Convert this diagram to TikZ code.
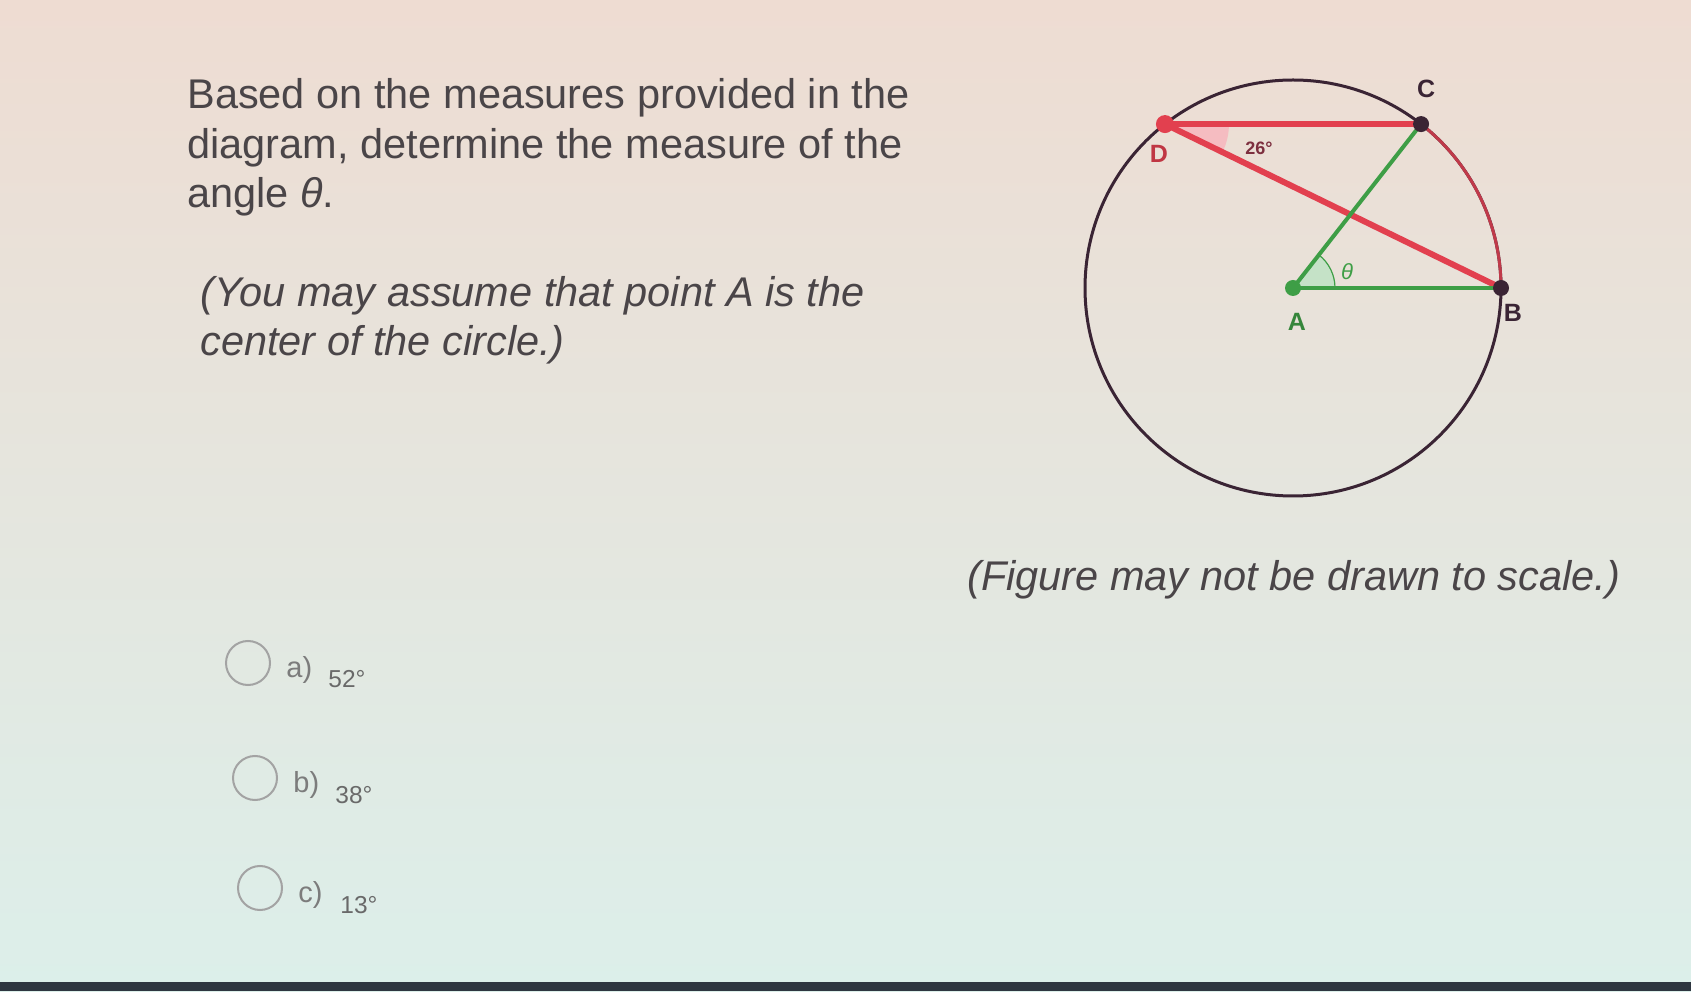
\documentclass[tikz,border=0pt]{standalone}
\usepackage{fontspec}
\setmainfont{Liberation Sans}
\usepackage{tikz}
\usetikzlibrary{positioning}

\definecolor{qtext}{HTML}{4A4548}
\definecolor{chordred}{HTML}{E2404F}
\definecolor{radgreen}{HTML}{3E9E46}
\definecolor{rimdark}{HTML}{3A2434}
\definecolor{optgray}{HTML}{7C7C7C}
\definecolor{bgtop}{HTML}{EEDCD2}
\definecolor{bgbottom}{HTML}{DCEFEA}
\definecolor{bardark}{HTML}{2E3640}

\newcommand{\qfont}{\fontsize{20.75}{24.75}\selectfont}
\newcommand{\circrad}{208}

\tikzset{question/.style={anchor=base west,inner sep=0,text=qtext,align=left,font=\qfont},
    aside/.style={question,font=\qfont\itshape},
    rim/.style={draw=rimdark,line width=1.5pt},
    chord/.style={draw=chordred,line width=3pt,line cap=round},
    spoke/.style={draw=radgreen,line width=2pt,line cap=round},
    ptdot/.style={circle,inner sep=0,minimum size=8pt},
    ptlabel/.style={inner sep=0,font=\bfseries\fontsize{12.5}{14}\selectfont},
    radio/.style={draw=optgray!70,circle,line width=1pt,minimum size=22pt,inner sep=0},
    optletter/.style={anchor=base west,inner sep=0,text=optgray,font=\fontsize{14.5}{16}\selectfont},
    optvalue/.style={anchor=base west,inner sep=0,text=optgray!85!black,font=\fontsize{12.25}{14}\selectfont}
}

\begin{document}
\begin{tikzpicture}[x=0.5pt,y=0.5pt]

\useasboundingbox (0,0) rectangle (1691,991);
\shade [top color=bgtop,bottom color=bgbottom] (0,0) rectangle (1691,991);
\fill [bardark] (0,0) rectangle (1691,9);

% question text (base = last line)
\node [question] (ask) at (187,783)
    {Based on the measures provided in the\\diagram, determine the measure of the\\angle \textit{θ}.};
\node [aside] (hint) at (200,635)
    {(You may assume that point A is the\\center of the circle.)};
\node [aside] (scale) at (967,400) {(Figure may not be drawn to scale.)};

% answer choices
\foreach \cx/\cy/\letter/\deg in {
    248/328/a/52,
    255/213/b/38,
    260/103/c/13}
{
    \node [radio] (radio-\letter) at (\cx,\cy) {};
    \path (\cx,\cy) ++(38,-14) node [optletter] (opt-\letter) {\letter)};
    \path (\cx,\cy) ++(80,-25) node [optvalue] (val-\letter) {\deg°};
}

% circle with centre A
\coordinate (A) at (1293,703);
\path (A) ++(0:\circrad) coordinate (B);
\path (A) ++(52:\circrad) coordinate (C);
\path (A) ++(128:\circrad) coordinate (D);

\draw [rim] (A) circle [radius=\circrad];
\draw [rim,draw=chordred!80!rimdark] (B) arc [start angle=0,end angle=52,radius=\circrad];

% angle marks
\fill [chordred!35] (D) -- ++(0:64) arc [start angle=0,end angle=-26,radius=64] -- cycle;
\fill [radgreen!30] (A) -- ++(0:42) arc [start angle=0,end angle=52,radius=42] -- cycle;
\draw [radgreen,line width=0.6pt] (A) ++(0:42) arc [start angle=0,end angle=52,radius=42];

\draw [chord] (D) -- (C);
\draw [chord] (D) -- (B);
\draw [spoke] (A) -- (C);
\draw [spoke] (A) -- (B);

\node [ptdot,fill=chordred,minimum size=9pt] (Ddot) at (D) {};
\node [ptdot,fill=rimdark] (Cdot) at (C) {};
\node [ptdot,fill=rimdark] (Bdot) at (B) {};
\node [ptdot,fill=radgreen] (Adot) at (A) {};

\path (C) ++(5,35) node [ptlabel,text=rimdark] (labC) {C};
\path (D) ++(-6,-30) node [ptlabel,text=chordred!85!black] (labD) {D};
\path (B) ++(12,-25) node [ptlabel,text=rimdark] (labB) {B};
\path (A) ++(4,-34) node [ptlabel,text=radgreen!85!black] (labA) {A};
\path (D) ++(94,-24) node [inner sep=0,text=rimdark!60!chordred,font=\bfseries\fontsize{9}{10}\selectfont] (ang26) {26°};
\path (A) ++(54,16) node [inner sep=0,text=radgreen,font=\itshape\fontsize{11}{12}\selectfont] (theta) {θ};

\end{tikzpicture}
\end{document}
